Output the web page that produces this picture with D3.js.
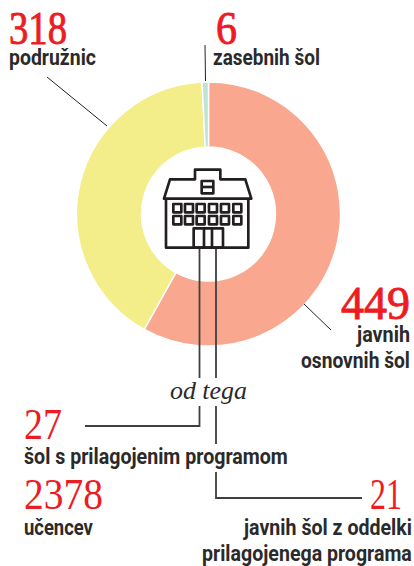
<!DOCTYPE html>
<html><head><meta charset="utf-8">
<script src="https://cdn.jsdelivr.net/npm/d3@7"></script>
<style>html,body{margin:0;padding:0;background:#fff}svg{display:block}</style>
</head><body><svg id="c" width="414" height="566"></svg>
<script>
const categories = ["javnih osnovnih šol", "podružnic", "zasebnih šol"];
const values = [449, 318, 6];
const sliceColors = ["#f9a88f", "#f4ee8a", "#bfe3d6"];
const windowColumns = [130, 165, 200, 237, 273, 310];
const windowRows = [162, 198];
const narrow = "'Liberation Sans Narrow','Roboto','Noto Sans',sans-serif";
const serif = "'Liberation Serif','DejaVu Serif',serif";
const red = "#ed1c24", ink = "#2b2a2b";

// text: string, left x, baseline y, pixel width, size, style
const labels = [
 {t:"318",x:9,y:44,w:58,s:47,b:0.9,c:red,ff:serif},
 {t:"6",x:216,y:44,w:21,s:47,b:0.9,c:red,ff:serif},
 {t:"449",x:341,y:319,w:69,s:47,b:0.9,c:red,ff:serif},
 {t:"27",x:24,y:439,w:38,s:44,c:red,ff:serif},
 {t:"2378",x:24,y:509,w:79,s:44,c:red,ff:serif},
 {t:"21",x:370,y:509,w:32,s:44,c:red,ff:serif},
 {t:"podružnic",x:9,y:65,w:87,s:22,f:"bold",c:ink,ff:narrow},
 {t:"zasebnih šol",x:213,y:65,w:107,s:22,f:"bold",c:ink,ff:narrow},
 {t:"javnih",x:357,y:342,w:53,s:22,f:"bold",c:ink,ff:narrow},
 {t:"osnovnih šol",x:301,y:368,w:109,s:22,f:"bold",c:ink,ff:narrow},
 {t:"šol s prilagojenim programom",x:24,y:464,w:264,s:22,f:"bold",c:ink,ff:narrow},
 {t:"učencev",x:24,y:535,w:69,s:22,f:"bold",c:ink,ff:narrow},
 {t:"javnih šol z oddelki",x:244,y:535,w:168,s:22,f:"bold",c:ink,ff:narrow},
 {t:"prilagojenega programa",x:202,y:561,w:210,s:22,f:"bold",c:ink,ff:narrow},
 {t:"od tega",x:170,y:399,w:77,s:26,i:1,c:ink,ff:serif}
];

const svg = d3.select("#c");
const cx = 208.5, cy = 214, R = 132, r = 67;

const pie = d3.pie().sort(null).value(d => d);
const arc = d3.arc().innerRadius(r).outerRadius(R);
const g = svg.append("g").attr("transform", `translate(${cx},${cy})`);
g.selectAll("path").data(pie(values)).join("path")
  .attr("d", arc).attr("fill", (d,i) => sliceColors[i])
  .attr("stroke", "#fff").attr("stroke-width", 1.4);

// thin leaders
[[47,77,107,126],[205,45,205.5,81],[304,304,331,330]].forEach(l =>
  svg.append("line").attr("x1",l[0]).attr("y1",l[1]).attr("x2",l[2]).attr("y2",l[3])
     .attr("stroke","#222").attr("stroke-width",1));

// connector lines
const conn = [
 "M199.5,247V378", "M199.5,406V426H85",
 "M216,247V378", "M216,406V444", "M216,472V498H362"
];
svg.selectAll("path.conn").data(conn).join("path").attr("class","conn")
  .attr("d",d=>d).attr("fill","none").attr("stroke","#3f3f3f").attr("stroke-width",1.8);

// building icon (drawn in 3x units)
const b = svg.append("g").attr("transform","translate(130,150) scale(0.3333)")
  .attr("fill","none").attr("stroke","#231f20").attr("stroke-width",8).attr("stroke-linejoin","round");
b.append("path").attr("d","M108,148V293H355V148");
b.append("path").attr("d","M102,146L120,88H195V59H271V88H346L364,146Z").attr("fill","#fff");
b.append("rect").attr("x",215).attr("y",93).attr("width",35).attr("height",37);
b.append("path").attr("d","M215,111H250");
windowRows.forEach(y => windowColumns.forEach(x =>
  b.append("rect").attr("x",x).attr("y",y).attr("width",24).attr("height",25)));
b.append("rect").attr("x",191).attr("y",235).attr("width",88).attr("height",58);
b.append("path").attr("d","M222,235V293M246,235V293");

// texts scaled horizontally to the measured widths
svg.selectAll("text").data(labels).join("text").text(d=>d.t)
  .attr("font-family",d=>d.ff).attr("font-size",d=>d.s)
  .attr("font-weight",d=>d.f||"normal").attr("font-style",d=>d.i?"italic":"normal")
  .attr("fill",d=>d.c).attr("stroke",d=>d.b?d.c:"none").attr("stroke-width",d=>d.b||0)
  .attr("transform",function(d){
    const k = d.w / this.getComputedTextLength();
    return `translate(${d.x},${d.y}) scale(${k},1)`;
  });
</script></body></html>
